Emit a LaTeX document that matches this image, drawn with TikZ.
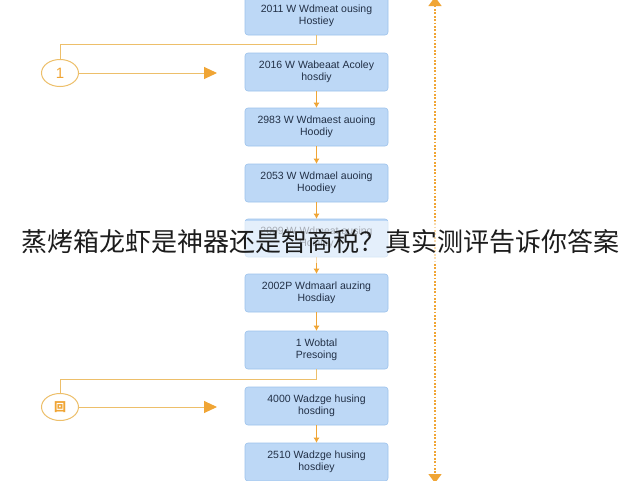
\documentclass[tikz,border=0pt]{standalone}
\usepackage{fontspec}
\setmainfont{Liberation Sans}
\newfontfamily\cjk{Noto Sans CJK SC}
\usetikzlibrary{arrows.meta,shapes.geometric}
\definecolor{boxfill}{HTML}{BDD8F6}
\definecolor{boxline}{HTML}{9CC2EC}
\definecolor{boxtext}{HTML}{223046}
\definecolor{orA}{HTML}{F0A535}
\definecolor{orL}{HTML}{EDBF6A}
\definecolor{titletext}{HTML}{1C1C1C}
\begin{document}
\begin{tikzpicture}[x=1pt,y=-1pt,
  flowbox/.style={draw=boxline, fill=boxfill, rounded corners=3pt, minimum width=143pt, minimum height=38pt, align=center, text=boxtext, line width=0.6pt, font=\fontsize{10.5}{12}\selectfont, inner sep=2pt},
  stepline/.style={draw=orA, line width=0.8pt, -{Latex[length=5pt,width=6pt]}},
  loopline/.style={draw=orL, line width=1pt},
  bigarrow/.style={draw=orL, line width=1pt, -{Triangle[length=13pt,width=12pt,fill=orA,color=orA]}},
  marker/.style={draw=orL, ellipse, line width=1pt, minimum width=37pt, minimum height=27pt, inner sep=0pt, text=orA},
  sideline/.style={draw=orA, line width=1.4pt, dash pattern=on 1.8pt off 1.6pt, {Triangle[length=9pt,width=13pt,fill=orA,color=orA]}-{Triangle[length=9pt,width=13pt,fill=orA,color=orA]}}
]
\useasboundingbox (0,0) rectangle (640,480);
\fill[white] (0,0) rectangle (640,480);

\node[flowbox] (b1) at (316.5,16) {2011 W Wdmeat ousing\\Hostiey};
\node[flowbox] (b2) at (316.5,72) {2016 W Wabeaat Acoley\\hosdiy};
\node[flowbox] (b3) at (316.5,127) {2983 W Wdmaest auoing\\Hoodiy};
\node[flowbox] (b4) at (316.5,183) {2053 W Wdmael auoing\\Hoodiey};
\node[flowbox] (b5) at (316.5,238) {2009 W Wdmeat ausing\\Hosiley};
\node[flowbox] (b6) at (316.5,293) {2002P Wdmaarl auzing\\Hosdiay};
\node[flowbox] (b7) at (316.5,350) {1 Wobtal\\Presoing};
\node[flowbox] (b8) at (316.5,406) {4000 Wadzge husing\\hosding};
\node[flowbox] (b9) at (316.5,462) {2510 Wadzge husing\\hosdiey};

\draw[stepline] (b2) -- (b3);
\draw[stepline] (b3) -- (b4);
\draw[stepline] (b4) -- (b5);
\draw[stepline] (b5) -- (b6);
\draw[stepline] (b6) -- (b7);
\draw[stepline] (b8) -- (b9);

\node[marker, font=\fontsize{15}{15}\selectfont] (c1) at (60,73) {1};
\node[marker, font=\fontsize{12}{12}\selectfont\cjk\bfseries] (c2) at (60,407) {回};
\coordinate (a1) at (217,73);
\coordinate (a2) at (217,407);

\draw[loopline] (b1.south) -- ++(0,9) -| (c1.north);
\draw[bigarrow] (c1.east) -- (a1);
\draw[loopline] (b7.south) -- ++(0,10) -| (c2.north);
\draw[bigarrow] (c2.east) -- (a2);

\coordinate (s1) at (435,-3);
\coordinate (s2) at (435,483);
\draw[sideline] (s1) -- (s2);

\fill[white, opacity=0.6] (0,221) rectangle (640,263);
\node[text=titletext, font=\cjk\fontsize{26}{26}\selectfont, inner sep=0pt] (title) at (320,242) {蒸烤箱龙虾是神器还是智商税？真实测评告诉你答案};
\end{tikzpicture}
\end{document}
